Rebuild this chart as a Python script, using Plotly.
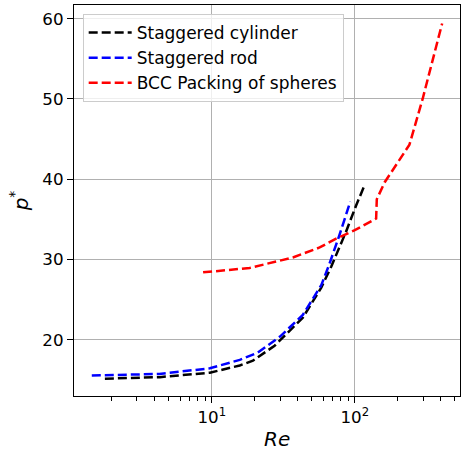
import plotly.graph_objects as go

# Data
cyl_re = [1.79, 4.34, 9.7, 15.7, 19.4, 27.5, 43.3, 58.3, 68.4, 87.0, 102.0, 118.0]
cyl_p = [15.15, 15.35, 15.9, 16.8, 17.4, 19.26, 22.75, 26.5, 29.1, 33.5, 36.7, 39.4]

rod_re = [1.45, 4.3, 9.7, 15.7, 21.0, 30.0, 43.3, 58.3, 66.0, 77.3, 93.0]
rod_p = [15.55, 15.75, 16.45, 17.5, 18.4, 20.4, 23.1, 26.8, 29.3, 32.8, 37.2]

bcc_re = [8.7, 18.4, 36.9, 56.8, 74.0, 100.0, 141.0, 142.5, 161.5, 241.0, 298.0, 408.0]
bcc_p = [28.4, 28.95, 30.25, 31.5, 32.6, 33.65, 35.1, 37.5, 39.6, 44.3, 50.0, 59.4]

series = [
    ("Staggered cylinder", cyl_re, cyl_p, "black"),
    ("Staggered rod", rod_re, rod_p, "blue"),
    ("BCC Packing of spheres", bcc_re, bcc_p, "red"),
]

fig = go.Figure()
for name, xs, ys, col in series:
    fig.add_trace(go.Scatter(
        x=xs, y=ys, mode="lines", name=name,
        line=dict(color=col, width=2.5, dash="9px,4px"),
    ))

font_family = "DejaVu Sans"
minor_vals = [m * d for d in (1, 10, 100) for m in range(2, 10)]

fig.update_layout(
    width=463, height=458,
    margin=dict(l=74, r=2, t=5, b=59),
    paper_bgcolor="white", plot_bgcolor="white",
    font=dict(family=font_family, size=16.7, color="black"),
    showlegend=True,
    legend=dict(
        x=0.0225, y=0.977, xanchor="left", yanchor="top",
        bgcolor="rgba(255,255,255,0.8)", bordercolor="#cccccc", borderwidth=1,
        font=dict(family=font_family, size=17, color="black"),
        tracegroupgap=0, itemwidth=43,
    ),
    xaxis=dict(
        type="log", range=[0.037, 2.7355],
        tickmode="array", tickvals=[10, 100],
        ticktext=["10<sup>1</sup>", "10<sup>2</sup>"],
        ticks="outside", ticklen=6, tickwidth=1.3, tickcolor="black",
        showline=True, linecolor="black", linewidth=1.3, mirror=True,
        showgrid=True, gridcolor="#b0b0b0", gridwidth=1.3,
        zeroline=False,
        minor=dict(tickmode="array", tickvals=minor_vals, ticks="outside",
                   ticklen=3.5, tickwidth=1, tickcolor="black", showgrid=False),
        title=dict(text=""),
    ),
    yaxis=dict(
        range=[13.0, 61.7],
        tickmode="array", tickvals=[20, 30, 40, 50, 60],
        ticks="outside", ticklen=6, tickwidth=1.3, tickcolor="black",
        showline=True, linecolor="black", linewidth=1.3, mirror=True,
        showgrid=True, gridcolor="#b0b0b0", gridwidth=1.3,
        zeroline=False,
        title=dict(text="<i>p</i><sup>*</sup>", font=dict(family=font_family, size=20), standoff=8),
    ),
    annotations=[
        dict(text="<i>Re</i>", xref="paper", yref="paper", x=0.525, y=-0.11,
             xanchor="center", yanchor="middle", showarrow=False,
             font=dict(family=font_family, size=20, color="black")),
    ],
)

fig.write_html("out.html")
